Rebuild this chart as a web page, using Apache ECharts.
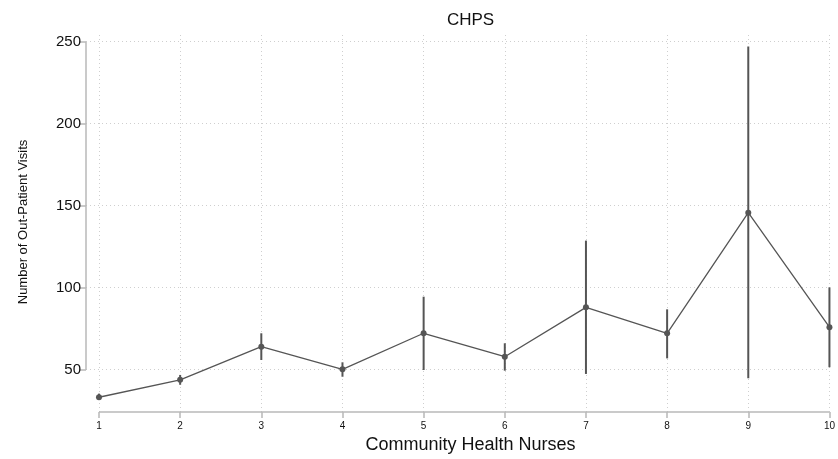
<!DOCTYPE html>
<html>
<head>
<meta charset="utf-8">
<script src="https://cdn.jsdelivr.net/npm/echarts@6/dist/echarts.min.js"></script>
<style>html,body{margin:0;padding:0;background:#fff}#c{width:838px;height:459px}</style>
</head>
<body>
<div id="c"></div>
<script>
var nurses = [1, 2, 3, 4, 5, 6, 7, 8, 9, 10];
var visits = [33.2, 43.8, 64.0, 50.2, 72.2, 57.9, 88.0, 72.2, 145.7, 75.9];
var ciLow  = [31.6, 40.8, 55.9, 45.7, 49.8, 49.4, 47.4, 56.9, 44.8, 51.5];
var ciHigh = [35.4, 46.8, 72.2, 54.5, 94.5, 66.1, 128.7, 86.8, 247.0, 100.2];
var yTicks = [50, 100, 150, 200, 250];
var xTicks = [1, 2, 3, 4, 5, 6, 7, 8, 9, 10];

var Y_MIN = 24.2, Y_MAX = 255.9, X_MIN = 0.84, X_MAX = 10;
var FONT = 'Liberation Sans, Arial, Helvetica, sans-serif';
var dark = '#555555';
var axisGrey = '#b8b8b8';

var chart = echarts.init(document.getElementById('c'), null, {renderer: 'canvas'});

var linePts = nurses.map(function (n, i) { return [n, visits[i]]; });
var ciData = nurses.map(function (n, i) { return [n, ciLow[i], ciHigh[i]]; });

var gridLines = [];
yTicks.forEach(function (v) { gridLines.push({yAxis: v}); });
xTicks.forEach(function (v) { gridLines.push({xAxis: v}); });

chart.setOption({
  animation: false,
  backgroundColor: '#fff',
  title: [
    {text: 'CHPS', left: 465.5, top: 7, textAlign: 'center',
     textStyle: {fontFamily: FONT, fontSize: 17, fontWeight: 'normal', color: '#111'}},
    {text: 'Community Health Nurses', left: 465.5, top: 431, textAlign: 'center',
     textStyle: {fontFamily: FONT, fontSize: 18, fontWeight: 'normal', color: '#111'}}
  ],
  grid: {left: 86, right: 6, top: 32, bottom: 47},
  xAxis: {
    type: 'value', min: X_MIN, max: X_MAX,
    axisLine: {show: false},
    splitLine: {show: false},
    axisTick: {show: true, customValues: xTicks, length: 6, lineStyle: {color: axisGrey, width: 1.5}},
    axisLabel: {customValues: xTicks, fontFamily: FONT, fontSize: 10, color: '#111', margin: 9}
  },
  yAxis: {
    type: 'value', min: Y_MIN, max: Y_MAX,
    axisLine: {show: false},
    splitLine: {show: false},
    axisTick: {show: true, customValues: yTicks, length: 7, lineStyle: {color: axisGrey, width: 1.5}},
    axisLabel: {customValues: yTicks, fontFamily: FONT, fontSize: 15, color: '#111', margin: 5},
    name: 'Number of Out-Patient Visits', nameLocation: 'middle', nameGap: 56,
    nameTextStyle: {fontFamily: FONT, fontSize: 13, color: '#111'}
  },
  series: [
    {
      type: 'line', data: [], silent: true, z: 0,
      markLine: {
        silent: true, symbol: 'none', label: {show: false}, z: 0,
        lineStyle: {type: [1, 3], color: '#cfcfcf', width: 1},
        data: gridLines
      }
    },
    {
      type: 'line', data: [], silent: true, z: 1,
      markLine: {
        silent: true, symbol: 'none', label: {show: false}, z: 1,
        lineStyle: {type: 'solid', color: axisGrey, width: 1.5},
        data: [
          [{coord: [xTicks[0], Y_MIN]}, {coord: [xTicks[xTicks.length - 1], Y_MIN]}],
          [{coord: [X_MIN, yTicks[0]]}, {coord: [X_MIN, yTicks[yTicks.length - 1]]}]
        ]
      }
    },
    {
      type: 'custom',
      data: ciData,
      encode: {x: 0, y: [1, 2]},
      renderItem: function (params, api) {
        var lo = api.coord([api.value(0), api.value(1)]);
        var hi = api.coord([api.value(0), api.value(2)]);
        return {
          type: 'line',
          shape: {x1: lo[0], y1: lo[1], x2: hi[0], y2: hi[1]},
          style: {stroke: dark, lineWidth: 2}
        };
      },
      z: 6
    },
    {
      type: 'line',
      data: linePts,
      symbol: 'circle', symbolSize: 6,
      itemStyle: {color: dark},
      lineStyle: {color: dark, width: 1.3},
      z: 7
    }
  ]
});
</script>
</body>
</html>
